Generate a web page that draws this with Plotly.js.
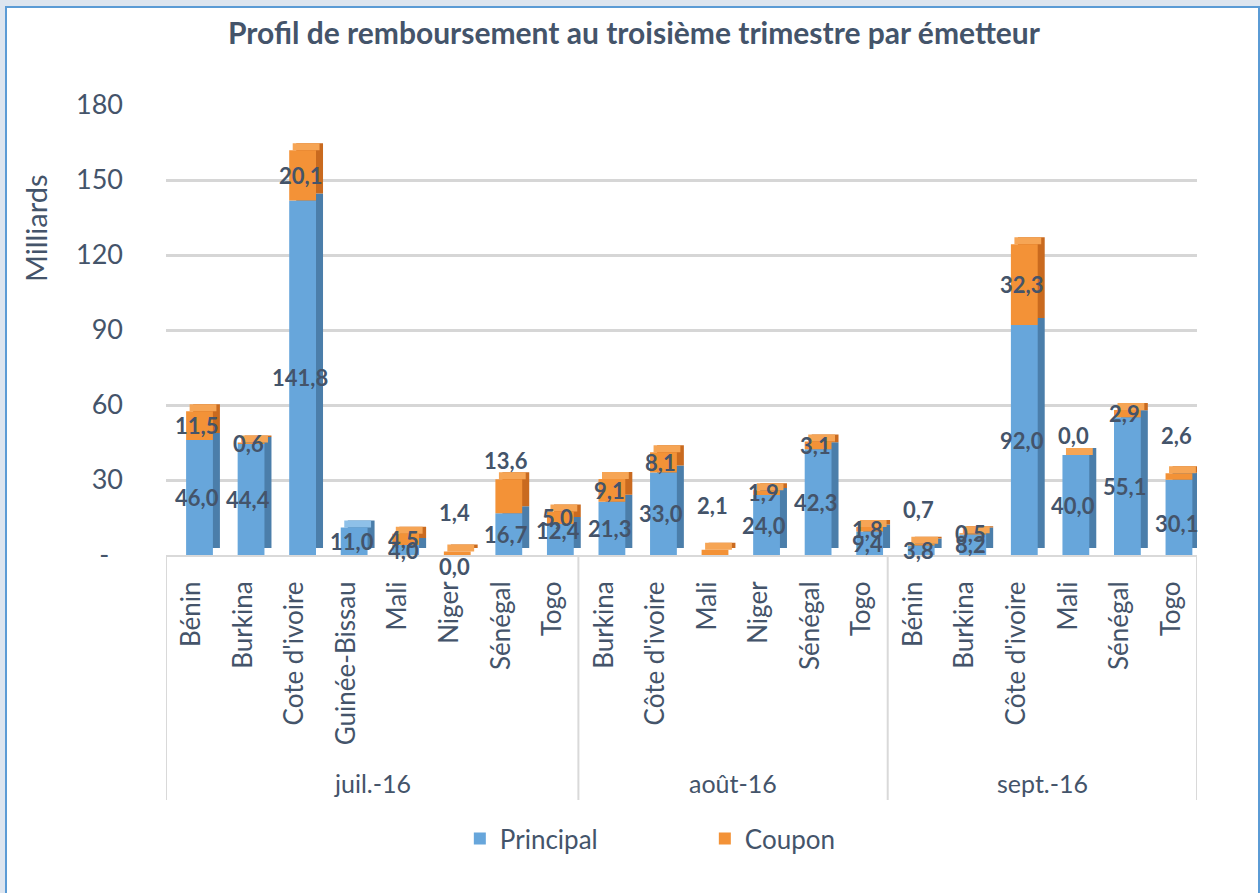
<!DOCTYPE html>
<html><head><meta charset="utf-8">
<script src="https://cdn.plot.ly/plotly-3.0.1.min.js"></script>
<style>
html,body{margin:0;padding:0;width:1260px;height:893px;overflow:hidden;background:#DDE5EF;}
#frame{position:absolute;left:5px;top:6px;width:1251px;height:900px;background:#fff;border-left:2px solid #5B9BD5;border-top:2px solid #5B9BD5;border-right:2px solid #5B9BD5;}
#chart{position:absolute;left:0;top:0;width:1260px;height:893px;}
</style></head><body><div id="frame"></div><div id="chart"></div>
<script>
// ---- data ----
const months = ['juil.-16','juil.-16','juil.-16','juil.-16','juil.-16','juil.-16','juil.-16','juil.-16',
                'août-16','août-16','août-16','août-16','août-16','août-16',
                'sept.-16','sept.-16','sept.-16','sept.-16','sept.-16','sept.-16'];
const countries = ['Bénin','Burkina',"Cote d'ivoire",'Guinée-Bissau','Mali','Niger','Sénégal','Togo',
                   'Burkina',"Côte d'ivoire",'Mali','Niger','Sénégal','Togo',
                   'Bénin','Burkina',"Côte d'ivoire",'Mali','Sénégal','Togo'];
const principal = [46.0,44.4,141.8,11.0,4.0,0.0,16.7,12.4,
                   21.3,33.0,null,24.0,42.3,9.4,
                   3.8,8.2,92.0,40.0,55.1,30.1];
const coupon = [11.5,0.6,20.1,null,4.5,1.4,13.6,5.0,
                9.1,8.1,2.1,1.9,3.1,1.8,
                0.7,0.5,32.3,0.0,2.9,2.6];
const yTickVals = [0,30,60,90,120,150,180];
const yTickText = ['-\u00a0\u00a0','30','60','90','120','150','180'];

// ---- style ----
const TXT = '#44546A';
const FONT = 'Lato, "Open Sans", sans-serif';
const C_BLUE = '#67A6DB', C_BLUE_SIDE = '#4B7EAA', C_BLUE_TOP = '#8EC0E8';
const C_OR = '#F39237', C_OR_SIDE = '#C96A1F', C_OR_TOP = '#F6A555';
const W = 0.52, OFF = -0.11, DX = 0.136, DY = 2.8;
// label pixel nudges (index -> px up)
const nudgeP = {5:-11, 7:9, 19:-6};
const nudgeC = {5:41, 6:36, 10:47, 14:35, 17:20, 19:41};

const n = countries.length;
const xs = countries.map((_, i) => i);
const P0 = principal.map(v => v == null ? 0 : v);
const C0 = coupon.map(v => v == null ? 0 : v);
const total = P0.map((p,i) => p + C0[i]);
const fmt = v => v.toFixed(1).replace('.', ',');

const common = {type:'bar', x:xs, width:W, hoverinfo:'skip', showlegend:false};
const traces = [
  Object.assign({}, common, {y: principal, base: principal.map(()=>DY), offset: OFF+DX, marker:{color:C_BLUE_SIDE, line:{width:0}}}),
  Object.assign({}, common, {y: coupon, base: P0.map(p=>p+DY), offset: OFF+DX, marker:{color:C_OR_SIDE, line:{width:0}}}),
  Object.assign({}, common, {y: total.map(()=>DY), base: total, offset: OFF+DX/2,
     marker:{color: coupon.map(c => c == null ? C_BLUE_TOP : C_OR_TOP), line:{width:0}}}),
  Object.assign({}, common, {name:'Principal', y: principal, base: principal.map(()=>0), offset: OFF, showlegend:true, marker:{color:C_BLUE, line:{width:0}}}),
  Object.assign({}, common, {name:'Coupon', y: coupon, base: P0, offset: OFF, showlegend:true, marker:{color:C_OR, line:{width:0}}})
];

const annotations = [];
const shapes = [];
const labFont = {family: FONT, size: 22, color: TXT, weight: 700};
for (let i = 0; i < n; i++) {
  if (principal[i] != null) {
    annotations.push({xref:'x', yref:'y', x: i + 0.1, y: principal[i]/2, text: fmt(principal[i]),
      showarrow:false, font: labFont, yshift: nudgeP[i] || 0});
  }
  if (coupon[i] != null) {
    annotations.push({xref:'x', yref:'y', x: i + 0.1, y: P0[i] + coupon[i]/2, text: fmt(coupon[i]),
      showarrow:false, font: labFont, yshift: nudgeC[i] || 0});
  }
}
// month groups: labels + dividers
const groups = [];
months.forEach((m, i) => {
  if (!groups.length || groups[groups.length-1].m !== m) groups.push({m, start:i, end:i});
  else groups[groups.length-1].end = i;
});
const divY = (555-800)/450;
shapes.push({type:'line', xref:'x', yref:'paper', x0:-0.5, x1:-0.5, y0:0, y1:divY, line:{color:'#D9D9D9', width:2}});
groups.forEach(g => {
  annotations.push({xref:'x', yref:'paper', x:(g.start+g.end)/2, y:(555-783)/450, text:g.m,
    showarrow:false, yanchor:'middle', xanchor:'center', font:{family:FONT, size:25, color:TXT}});
  shapes.push({type:'line', xref:'x', yref:'paper', x0:g.end+0.5, x1:g.end+0.5, y0:0, y1:divY, line:{color:'#D9D9D9', width:2}});
});
annotations.push({xref:'paper', yref:'paper', x:(35-166)/1031, y:(555-228)/450, text:'Milliards',
  textangle:-90, showarrow:false, xanchor:'center', yanchor:'middle', font:{family:FONT, size:29, color:TXT}});

const layout = {
  width:1260, height:893,
  margin:{l:166, r:63, t:105, b:338},
  paper_bgcolor:'rgba(0,0,0,0)', plot_bgcolor:'rgba(0,0,0,0)',
  barmode:'overlay',
  title:{text:'<b>Profil de remboursement au troisième trimestre par émetteur</b>',
    font:{family:FONT, size:30, color:TXT}, x:634/1260, xref:'container', xanchor:'center',
    y:1-33/893, yref:'container', yanchor:'middle'},
  xaxis:{type:'linear', range:[-0.5, n-0.5], tickvals:xs, ticktext:countries, tickangle:-90,
    tickfont:{family:FONT, size:26, color:TXT}, ticklabelstandoff:14,
    showline:true, linecolor:'#D9D9D9', linewidth:2, ticks:'', showgrid:false, zeroline:false},
  yaxis:{range:[0,180], tickvals:yTickVals, ticktext:yTickText, tickfont:{family:FONT, size:27, color:TXT},
    showgrid:true, gridcolor:'#D6D6D6', gridwidth:3, zeroline:false, showline:false, ticks:'',
    ticklabelstandoff:42},
  legend:{orientation:'h', x:0.285, xanchor:'left', y:-0.63, yanchor:'middle', entrywidth:200,
    font:{family:FONT, size:26, color:TXT}, bgcolor:'rgba(0,0,0,0)'},
  annotations: annotations,
  shapes: shapes,
  font:{family:FONT}
};
Plotly.newPlot('chart', traces, layout, {displayModeBar:false, staticPlot:true});
</script></body></html>
